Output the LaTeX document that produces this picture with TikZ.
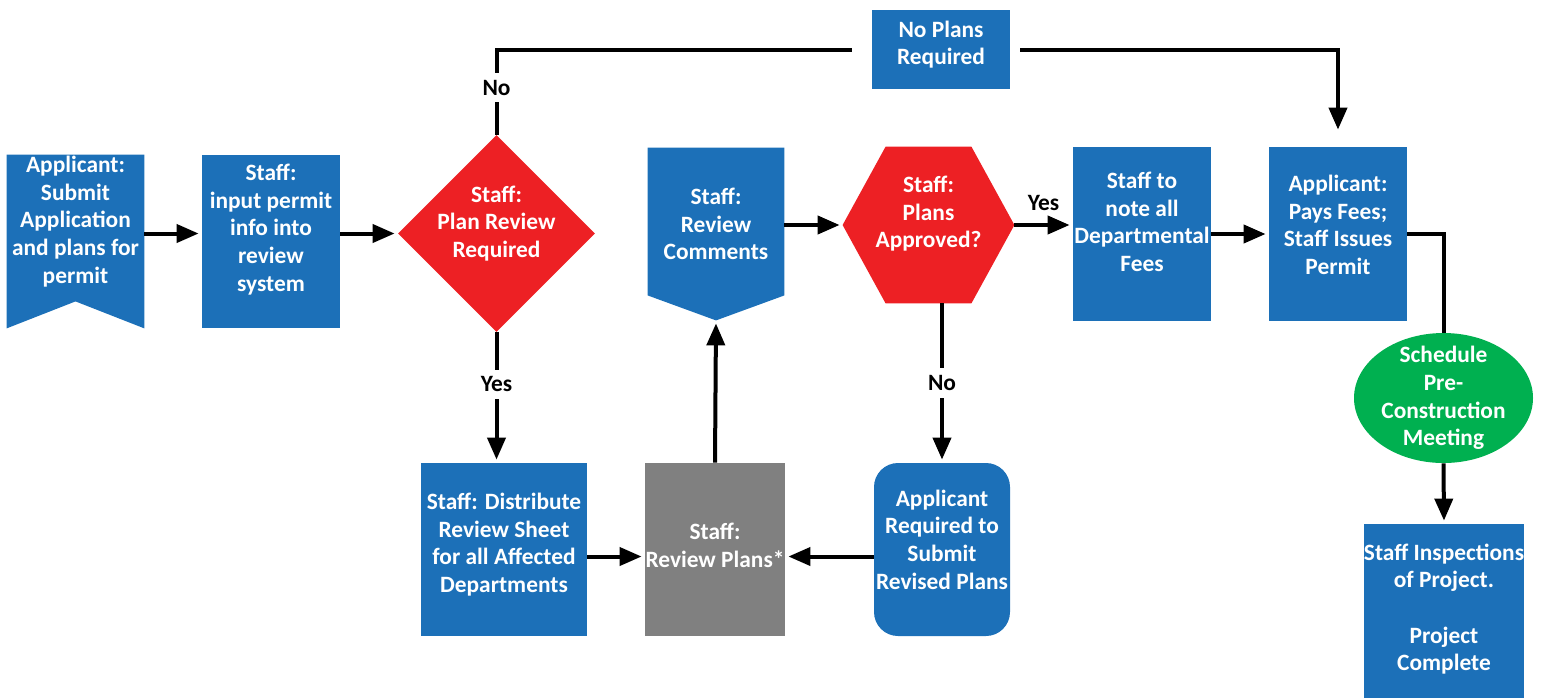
\documentclass[tikz,border=0pt]{standalone}
\usepackage{fontspec}
\setmainfont{Carlito}
\usetikzlibrary{shapes.geometric,arrows.meta,backgrounds}

\definecolor{flowblue}{RGB}{28,112,184}
\definecolor{flowred}{RGB}{237,32,36}
\definecolor{flowgray}{RGB}{128,128,128}
\definecolor{flowgreen}{RGB}{0,176,80}

\newcommand{\flowfont}{\fontsize{11.7}{13.8}\selectfont\bfseries}

\tikzset{
  flowtext/.style={text=white, font=\flowfont, align=center, inner sep=0pt},
  shapebox/.style={inner sep=0pt, minimum width=#1},
  bluebox/.style={shapebox=#1, fill=flowblue},
  conn/.style={line width=2pt},
  arr/.style={conn, -{Triangle[length=11pt,width=9pt]}, shorten >=1.5pt},
  cond/.style={fill=white, text=black, font=\flowfont, inner sep=3.5pt},
}

\begin{document}
\begin{tikzpicture}[x=0.5pt,y=-0.5pt]
    \useasboundingbox (0,0) rectangle (1543,698);

    % Upper row
    \node[shapebox=68.5pt, minimum height=86.5pt, label={[flowtext,yshift=10pt]center:{Applicant:\\Submit\\Application\\and plans for\\permit}}] (app) at (75.5,241.5) {};
    \node[bluebox=69pt, minimum height=86.5pt, label={[flowtext,yshift=6pt]center:{Staff:\\input permit\\info into\\review\\system}}] (inp) at (271,241.5) {};
    \node[diamond, fill=flowred, inner sep=0pt, minimum width=98.5pt, minimum height=98.5pt, label={[flowtext,yshift=5pt]center:{Staff:\\Plan Review\\Required}}] (pr) at (496.5,233.5) {};
    \node[bluebox=69pt, minimum height=39.5pt, label={[flowtext,yshift=2.5pt]center:{No Plans\\Required}}] (np) at (941,49.5) {};
    \node[shapebox=68pt, minimum height=86pt, label={[flowtext,yshift=5pt]center:{Staff:\\Review\\Comments}}] (rc) at (716,234) {};
    \node[shapebox=85.5pt, minimum height=78pt, label={[flowtext,yshift=5.5pt]center:{Staff:\\Plans\\Approved?}}] (pa) at (928.5,225) {};
    \node[bluebox=69pt, minimum height=87pt, label={[flowtext,yshift=6pt]center:{Staff to\\note all\\Departmental\\Fees}}] (fee) at (1142,234) {};
    \node[bluebox=69pt, minimum height=87pt, label={[flowtext,yshift=4.5pt]center:{Applicant:\\Pays Fees;\\Staff Issues\\Permit}}] (pay) at (1338,234) {};

    % Right column
    \node[ellipse, fill=flowgreen, inner sep=0pt, minimum width=89.5pt, minimum height=65pt, label={[flowtext]center:{Schedule\\Pre-\\Construction\\Meeting}}] (sch) at (1443.5,398) {};
    \node[bluebox=80pt, minimum height=87pt, label={[flowtext,yshift=1pt]center:{Staff Inspections\\of Project.\\[13.8pt]Project\\Complete}}] (insp) at (1444,611) {};

    % Lower row
    \node[bluebox=83pt, minimum height=86.5pt, label={[flowtext,yshift=2.5pt]center:{Staff: Distribute\\Review Sheet\\for all Affected\\Departments}}] (dist) at (504,549.5) {};
    \node[shapebox=70pt, fill=flowgray, minimum height=86.5pt, label={[flowtext,yshift=2pt]center:{Staff:\\Review Plans*}}] (rev) at (715,549.5) {};
    \node[bluebox=68pt, minimum height=86.5pt, rounded corners=12pt, label={[flowtext,yshift=5pt]center:{Applicant\\Required to\\Submit\\Revised Plans}}] (resub) at (942,549.5) {};

    % Banner, pointer and hexagon outlines
    \begin{scope}[on background layer]
        \fill[flowblue] (app.north west) -- (app.north east) -- (app.south east) -- ([yshift=13.5pt]app.south) -- (app.south west) -- cycle;
        \fill[flowblue] (rc.north west) -- (rc.north east) -- ([yshift=12.5pt]rc.south east) -- (rc.south) -- ([yshift=12.5pt]rc.south west) -- cycle;
        \fill[flowred] (pa.west) -- ([xshift=21.5pt]pa.north west) -- ([xshift=-21.5pt]pa.north east) -- (pa.east) -- ([xshift=-21.5pt]pa.south east) -- ([xshift=21.5pt]pa.south west) -- cycle;
    \end{scope}

    % Connectors
    \draw[arr] (app.east |- pr.west) -- (inp.west |- pr.west);
    \draw[arr] (inp.east |- pr.west) -- (pr.west);
    \draw[conn] (pr.north) -- node[cond, pos=0.55] {No} (pr.north |- np.west) -- ([xshift=-10pt]np.west);
    \draw[arr] ([xshift=5pt]np.east) -| ([yshift=7pt]pay.north);
    \draw[arr] (pr.south) -- node[cond, pos=0.4] {Yes} (pr.south |- dist.north);
    \draw[arr] ([yshift=-3.5pt]dist.east) -- ([yshift=-3.5pt]rev.west);
    \draw[arr] ([yshift=-3.5pt]resub.west) -- ([yshift=-3.5pt]rev.east);
    \draw[arr] (rev.north) -- (rc.south);
    \draw[arr] (rc.east |- pa.west) -- (pa.west);
    \draw[arr] (pa.east) -- node[above, font=\flowfont, inner sep=6pt] {Yes} (fee.west |- pa.east);
    \draw[arr] (resub.north |- pa.south) -- node[cond] {No} (resub.north);
    \draw[arr] (fee.east |- pay.west) -- (pay.west);
    \draw[conn] (pay.east) -| (sch.north);
    \draw[arr] (sch.south) -- (insp.north);

\end{tikzpicture}
\end{document}
